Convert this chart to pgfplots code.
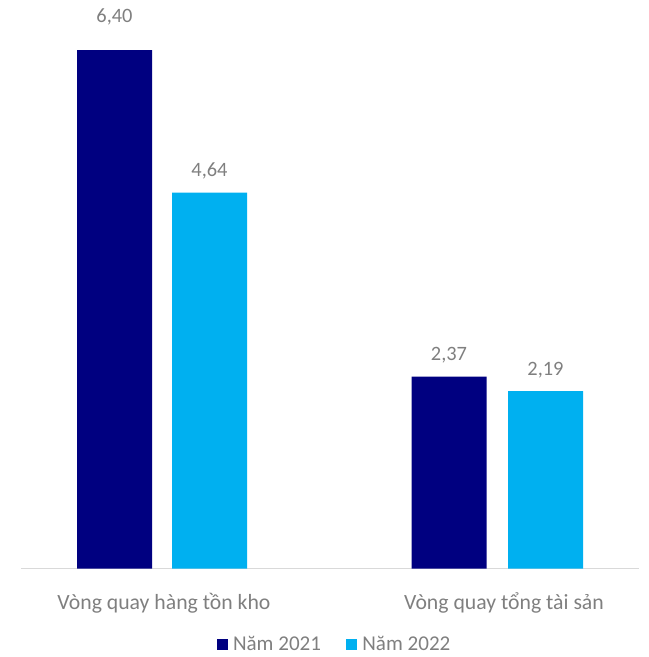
\documentclass[border=0pt]{standalone}
\usepackage{pgfplots}
\pgfplotsset{compat=1.18}
\usepackage{pgfplotstable}
\usepackage{fontspec}
\setmainfont{Carlito}
\definecolor{navy21}{HTML}{000080}
\definecolor{blue22}{HTML}{00B0F0}
\definecolor{txt}{HTML}{7F7F7F}
\definecolor{axl}{HTML}{D9D9D9}

\pgfplotstableread{
x y lab dy
114.5 6.40 6,40 20.4
449 2.37 2,37 12
}\tA
\pgfplotstableread{
x y lab dy
209.5 4.64 4,64 12
545.5 2.19 2,19 12
}\tB

\begin{document}
\begin{tikzpicture}
\useasboundingbox (-15.75pt,-66.225pt) rectangle (471pt,426.525pt);
\begin{axis}[
  scale only axis, width=463.5pt, height=426.525pt,
  xmin=21, xmax=639, ymin=0, ymax=7.0175,
  axis x line=bottom, axis y line=none,
  x axis line style={-, draw=axl, line width=0.75pt},
  xtick={164,504},
  xticklabels={Vòng quay hàng tồn kho, Vòng quay tổng tài sản},
  xtick style={draw=none},
  ytick=\empty,
  every x tick label/.append style={anchor=base, yshift=-26.5pt, font=\fontsize{16.3}{19}\selectfont, text=txt, inner sep=0pt},
  ybar, bar width=75,
  nodes near coords, point meta=explicit symbolic,
  visualization depends on={\thisrow{dy} \as \dy},
  nodes near coords style={anchor=base, yshift=\dy pt, font=\fontsize{15.3}{18}\selectfont, text=txt, inner sep=0pt},
  clip=false,
  legend style={at={(0.5057,-0.1325)}, anchor=center, draw=none, fill=none,
    legend columns=2, font=\fontsize{15.8}{18}\selectfont, text=txt,
    nodes={inner sep=0pt},
    /tikz/every odd column/.append style={column sep=4pt},
    /tikz/every even column/.append style={column sep=18.75pt}},
  legend image code/.code={\fill[#1] (0pt,-4.125pt) rectangle (8.25pt,4.125pt);},
]
\addplot[fill=navy21, draw=none, bar shift=0pt] table[x=x, y=y, meta=lab]{\tA};
\addplot[fill=blue22, draw=none, bar shift=0pt] table[x=x, y=y, meta=lab]{\tB};
\legend{Năm 2021, Năm 2022}
\end{axis}
\end{tikzpicture}
\end{document}
